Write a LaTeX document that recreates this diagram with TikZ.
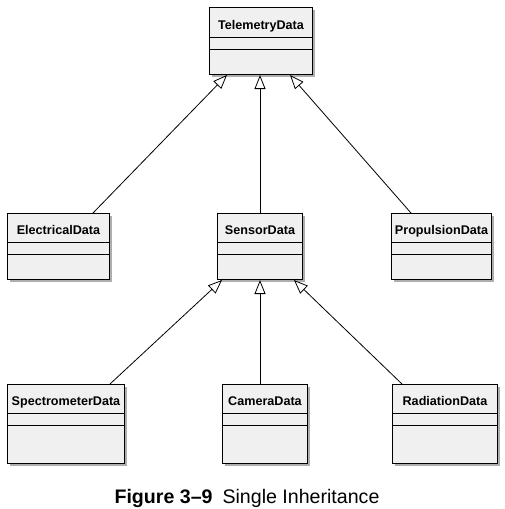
\documentclass[tikz,border=0pt]{standalone}
\usepackage{fontspec}
\setmainfont{Liberation Sans}
\usetikzlibrary{arrows.meta,calc,shadows}
\definecolor{boxfill}{RGB}{240,240,240}
\begin{document}
\begin{tikzpicture}[x=1pt, y=-1pt,
  classbox/.style={draw, line width=1pt, fill=boxfill, inner sep=0pt, anchor=north west,
    drop shadow={shadow xshift=2.5pt, shadow yshift=-2.5pt, fill=black!45, opacity=0.7}},
  classname/.style={font=\fontsize{12.6}{14}\selectfont\bfseries, inner sep=0pt, anchor=base},
  inherit/.style={-{Triangle[open, length=14pt, width=11pt]}, line width=0.8pt}]
\useasboundingbox (0,0) rectangle (505,509);
% Class boxes: name/left/top/width/height/header height/label
\foreach \n/\x/\y/\w/\h/\hd/\t in {
    tel/209/7/103/67/30/TelemetryData,
    ele/7/213/102/66/29/ElectricalData,
    sen/217/213/85/66/29/SensorData,
    pro/391/213/100/66/29/PropulsionData,
    spe/7/384/117/79/29/SpectrometerData,
    cam/222/384/85/79/29/CameraData,
    rad/392/384/105/79/29/RadiationData}
{
  \node[classbox, minimum width=\w pt, minimum height=\h pt] (\n) at (\x,\y) {};
  \node[classname] (\n-name) at ($(\n.north)+(0,\hd-8)$) {\t};
  \draw[line width=0.8pt] ($(\n.north west)+(0,\hd)$) -- ($(\n.north east)+(0,\hd)$);
  \draw[line width=0.8pt] ($(\n.north west)+(0,\hd+12)$) -- ($(\n.north east)+(0,\hd+12)$);
}
% Generalisations to TelemetryData
\draw[inherit] ([xshift=-17pt]ele.north east) -- ([xshift=18pt]tel.south west);
\draw[inherit] (sen.north) -- (sen.north |- tel.south);
\draw[inherit] ([xshift=20pt]pro.north west) -- ([xshift=-23pt]tel.south east);
% Generalisations to SensorData
\draw[inherit] ([xshift=-15pt]spe.north east) -- ([xshift=5pt]sen.south west);
\draw[inherit] (sen.south |- cam.north) -- (sen.south);
\draw[inherit] ([xshift=10pt]rad.north west) -- ([xshift=-9pt]sen.south east);
% Caption
\node[font=\fontsize{19.6}{22}\selectfont, anchor=base, inner sep=0pt] (caption) at (247,503)
  {\textbf{Figure 3–9}\hspace{10pt}Single Inheritance};
\end{tikzpicture}
\end{document}
